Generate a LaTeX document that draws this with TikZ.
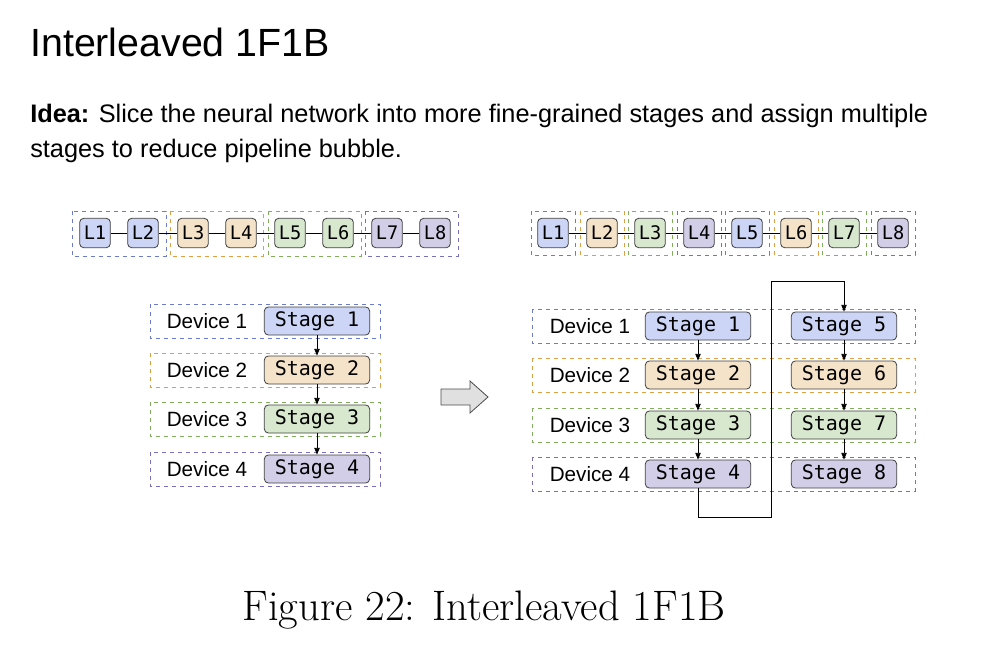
\documentclass[tikz,border=0pt]{standalone}
\usepackage{fontspec}
\newfontfamily\sansf{Liberation Sans}
\newfontfamily\monof{DejaVu Sans Mono}
\usetikzlibrary{arrows.meta}
\definecolor{fb}{HTML}{CCD5F5}\definecolor{db}{HTML}{6A7BD0}
\definecolor{fo}{HTML}{F4E3C8}\definecolor{do}{HTML}{E0A040}
\definecolor{fg}{HTML}{D8E8CE}\definecolor{dg}{HTML}{7FAE5C}
\definecolor{fp}{HTML}{D2CEE8}\definecolor{dp}{HTML}{7A6FBF}
\begin{document}
\begin{tikzpicture}[x=0.75pt,y=-0.75pt,
 lay/.style={draw=black!75,rounded corners=3pt,minimum width=23pt,minimum height=22pt,inner sep=0pt,font=\monof\fontsize{14}{14}\selectfont,line width=0.6pt},
 stg/.style={draw=black!75,rounded corners=3pt,minimum width=79pt,minimum height=21pt,inner sep=0pt,font=\monof\fontsize{15}{15}\selectfont,line width=0.6pt},
 grp/.style={dashed,line width=0.6pt},
 dev/.style={font=\sansf\fontsize{15.5}{15.5}\selectfont},
 arr/.style={-{Triangle[length=5pt,width=4pt]},line width=0.6pt}]
\useasboundingbox (0,0) rectangle (990,668);
\node[anchor=west,inner sep=0pt,font=\sansf\fontsize{29.5}{29.5}\selectfont] (title) at (30,42) {Interleaved 1F1B};
\node[anchor=north west,inner sep=0pt,align=left,font=\sansf\fontsize{19}{26}\selectfont] (idea) at (30,104) {\textbf{Idea:} Slice the neural network into more fine-grained stages and assign multiple\\stages to reduce pipeline bubble.};
% left layers
\draw[grp,db] (72,211) rectangle (166,256);
\draw[grp,do] (170,211) rectangle (263,256);
\draw[grp,dg] (268,211) rectangle (361,256);
\draw[grp,dp] (365,211) rectangle (458,256);
\foreach \i/\x/\c in {1/95/fb,2/143/fb,3/193/fo,4/241/fo,5/290/fg,6/338/fg,7/387/fp,8/435/fp}
  \node[lay,fill=\c] (a\i) at (\x,233) {L\i};
\foreach \i/\j in {1/2,2/3,3/4,4/5,5/6,6/7,7/8} \draw[line width=0.6pt] (a\i) -- (a\j);
% left devices
\foreach \k/\y/\c/\d in {1/321/fb/db,2/370/fo/do,3/419/fg/dg,4/469/fp/dp}{
  \draw[grp,\d] (150,\y-17) rectangle (380,\y+17);
  \node[dev] (ld\k) at (207,\y) {Device \k};
  \node[stg,fill=\c] (ls\k) at (317,\y) {Stage \k};}
\foreach \i/\j in {1/2,2/3,3/4} \draw[arr] (ls\i) -- (ls\j);
% block arrow
\draw[draw=black!70,fill=black!12,line width=0.6pt] (441,389) -- (470,389) -- (470,381) -- (488,397) -- (470,413) -- (470,405) -- (441,405) -- cycle;
% right layers
\foreach \i/\x/\c/\d in {1/553/fb/db,2/602/fo/do,3/650/fg/dg,4/699/fp/dp,5/747/fb/db,6/796/fo/do,7/844/fg/dg,8/893/fp/dp}{
  \draw[grp,\d] (\x-22,211) rectangle (\x+22,255);
  \node[lay,fill=\c] (b\i) at (\x,233) {L\i};}
\foreach \i/\j in {1/2,2/3,3/4,4/5,5/6,6/7,7/8} \draw[line width=0.6pt] (b\i) -- (b\j);
% right devices
\foreach \k/\y/\c/\d/\m in {1/326/fb/db/5,2/375/fo/do/6,3/425/fg/dg/7,4/474/fp/dp/8}{
  \draw[grp,\d] (532,\y-17) rectangle (915,\y+17);
  \node[dev] (rd\k) at (590,\y) {Device \k};
  \node[stg,fill=\c] (rs\k) at (698,\y) {Stage \k};
  \node[stg,fill=\c] (rs\m) at (844,\y) {Stage \m};}
\foreach \i/\j in {1/2,2/3,3/4,5/6,6/7,7/8} \draw[arr] (rs\i) -- (rs\j);
\coordinate (c1) at (698,517);\coordinate (c2) at (771,517);
\coordinate (c3) at (771,281);\coordinate (c4) at (844,281);
\draw[arr] (rs4.south) -- (c1) -- (c2) -- (c3) -- (c4) -- (rs5.north);
\node[font=\fontsize{32}{32}\selectfont] (cap) at (484,610) {Figure 22: Interleaved 1F1B};
\end{tikzpicture}
\end{document}
